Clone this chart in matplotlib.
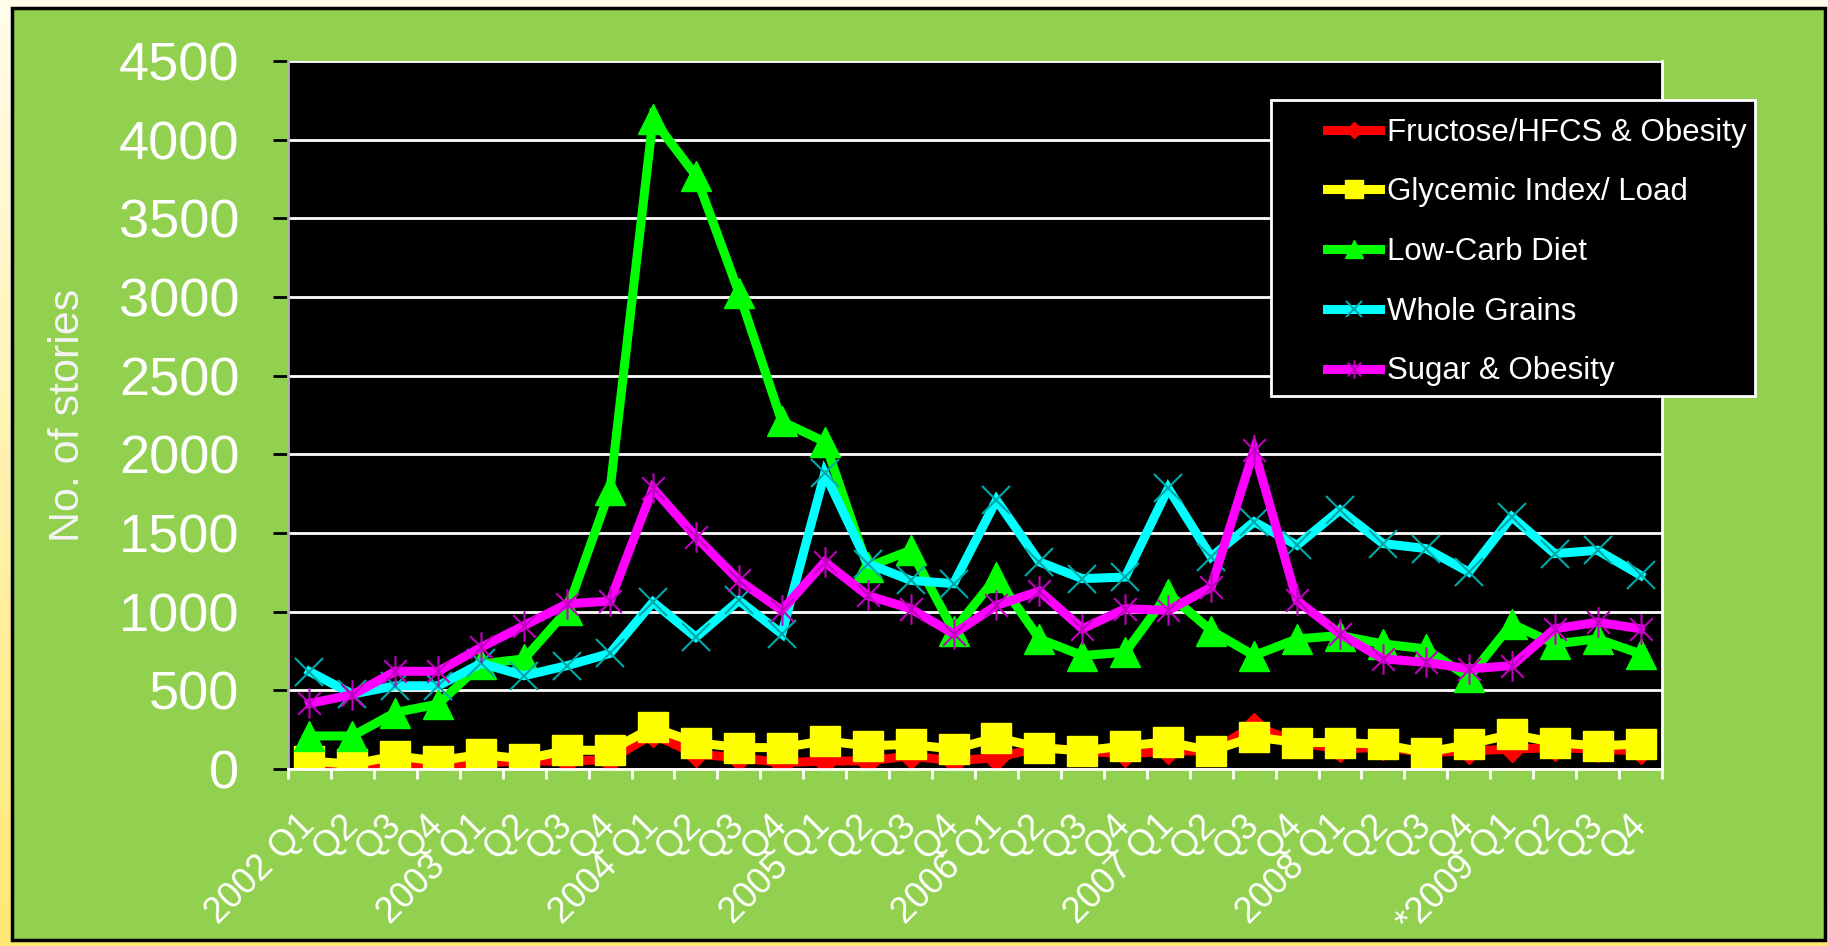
import matplotlib
matplotlib.use('Agg')
import matplotlib.pyplot as plt
from matplotlib.path import Path
from matplotlib.patches import Rectangle
from matplotlib.ticker import FixedLocator
import numpy as np

# quarterly story counts, 2002 Q1 .. 2009 Q4
quarters = ['2002 Q1', 'Q2', 'Q3', 'Q4', '2003 Q1', 'Q2', 'Q3', 'Q4',
            '2004 Q1', 'Q2', 'Q3', 'Q4', '2005 Q1', 'Q2', 'Q3', 'Q4',
            '2006 Q1', 'Q2', 'Q3', 'Q4', '2007 Q1', 'Q2', 'Q3', 'Q4',
            '2008 Q1', 'Q2', 'Q3', 'Q4', '*2009 Q1', 'Q2', 'Q3', 'Q4']

fructose = [5, 15, 20, 20, 40, 50, 50, 60, 220, 94, 72, 40, 51, 51, 83, 51,
            72, 136, 115, 94, 115, 115, 274, 170, 126, 140, 104, 115, 126, 136, 126, 115]
glycemic = [51, 30, 83, 51, 94, 62, 119, 119, 264, 168, 136, 136, 179, 147, 157, 126,
            200, 136, 115, 147, 172, 115, 204, 168, 168, 157, 104, 157, 221, 168, 147, 159]
lowcarb = [210, 210, 359, 413, 668, 700, 1008, 1773, 4130, 3771, 3028, 2209, 2080, 1284, 1390, 880,
           1220, 827, 721, 742, 1114, 880, 721, 827, 848, 795, 763, 582, 923, 795, 827, 732]
wholegrains = [619, 476, 529, 529, 672, 593, 657, 735, 1061, 838, 1071, 859, 1880, 1306, 1199, 1178,
               1709, 1316, 1210, 1220, 1784, 1348, 1571, 1422, 1646, 1433, 1401, 1252, 1603, 1369, 1390, 1231]
sugar = [417, 472, 621, 621, 774, 912, 1050, 1067, 1784, 1475, 1199, 1008, 1316, 1103, 1019, 859,
         1040, 1131, 891, 1019, 1008, 1156, 2028, 1071, 859, 700, 678, 636, 657, 891, 933, 891]

series_names = ['Fructose/HFCS & Obesity', 'Glycemic Index/ Load', 'Low-Carb Diet',
                'Whole Grains', 'Sugar & Obesity']

W, H = 1828, 946


def draw():
    plt.rcParams['font.family'] = ['Liberation Sans', 'DejaVu Sans']
    fig = plt.figure(figsize=(W / 100, H / 100), dpi=100)

    # background: pale yellow gradient strip + green slide with black frame
    bg = fig.add_axes([0, 0, 1, 1])
    top = np.array([1.0, 0.99, 0.92])
    bot = np.array([1.0, 0.91, 0.45])
    t = np.linspace(0, 1, 200)[:, None]
    grad = (top * (1 - t) + bot * t)[:, None, :]
    bg.imshow(grad, extent=[0, W, H, 0], aspect='auto')
    bg.add_patch(Rectangle((12, 8), 1813, 932, facecolor='#92D050', edgecolor='black', lw=2.5))
    bg.set_xlim(0, W)
    bg.set_ylim(H, 0)
    bg.axis('off')

    ax = fig.add_axes([288 / W, 1 - 769 / H, 1374 / W, 708 / H])
    ax.set_facecolor('black')
    x = np.arange(len(quarters))

    star = Path([(-1, -1), (1, 1), (-1, 1), (1, -1), (0, -1.35), (0, 1.35)],
                [Path.MOVETO, Path.LINETO] * 3)
    styles = [
        dict(color='#FF0000', marker='D', ms=13, mec='#FF0000'),
        dict(color='#FFFF00', marker='s', ms=21, mec='#FFFF00'),
        dict(color='#00FF00', marker='^', ms=21, mec='#00FF00'),
        dict(color='#00FFFF', marker='x', ms=20, mec='#00A8A8', mew=1.5),
        dict(color='#FF00FF', marker=star, ms=22, mec='#C000C0', mfc='none', mew=1.5),
    ]
    handles = []
    for data, name, st in zip([fructose, glycemic, lowcarb, wholegrains, sugar], series_names, styles):
        h, = ax.plot(x, data, lw=6.5, label=name, solid_joinstyle='miter', **st)
        handles.append(h)

    ax.set_xlim(-0.5, len(quarters) - 0.5)
    ax.set_ylim(0, 4500)
    ax.set_yticks(range(0, 4501, 500))
    ax.grid(axis='y', color='white', lw=2)
    ax.set_axisbelow(True)
    for s in ax.spines.values():
        s.set_color('white')
        s.set_linewidth(2)
    ax.spines['left'].set_color('#B0B0B0')
    ax.spines['top'].set_visible(False)

    ax.tick_params(axis='y', colors='black', labelcolor='white', labelsize=39,
                   length=11, width=2, pad=24)
    ax.set_xticks(x)
    ax.set_xticklabels(quarters, rotation=45, ha='right', va='center',
                       rotation_mode='anchor', color='white', fontsize=26)
    ax.tick_params(axis='x', which='major', length=0, pad=37)
    ax.xaxis.set_minor_locator(FixedLocator(np.arange(-0.5, len(quarters), 1)))
    ax.tick_params(axis='x', which='minor', colors='white', length=7, width=2)

    ax.text(-0.16, 0.5, 'No. of stories', transform=ax.transAxes, rotation=90,
            ha='center', va='center', color='#F4F4F4', fontsize=31)

    # legend box spills over the right edge of the plot
    ax.add_patch(Rectangle((0.7154, 0.5268), 0.3523, 0.418, transform=ax.transAxes,
                           facecolor='black', edgecolor='white', lw=2, clip_on=False, zorder=4.9))
    leg = ax.legend(handles=handles, loc='upper left', bbox_to_anchor=(0.745, 0.942),
                    frameon=False, fontsize=22.5, labelcolor='white', handlelength=1.7,
                    handletextpad=0.2, labelspacing=0.95, borderpad=0, markerscale=0.6)
    leg.set_zorder(5)

    fig.savefig('out.png', dpi=100, facecolor=fig.get_facecolor())


if __name__ == '__main__':
    draw()
